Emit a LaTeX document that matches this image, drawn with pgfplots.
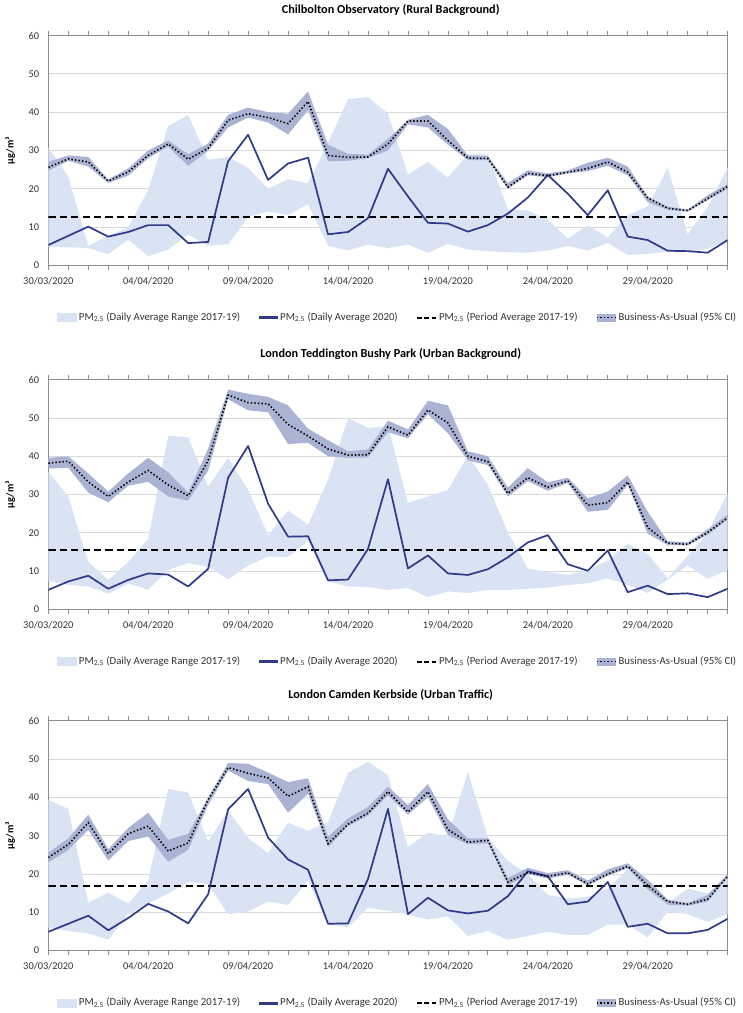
\documentclass[border=0pt]{standalone}
\usepackage{pgfplots}
\pgfplotsset{compat=1.18}
\usepackage{pgfplotstable}
\usepgfplotslibrary{fillbetween}
\usepackage{fontspec}
\setmainfont{Carlito}

\definecolor{rangeblue}{RGB}{218,227,243}
\definecolor{navy}{RGB}{47,58,138}
\definecolor{baublue}{RGB}{170,179,211}

% d = day from 30/03/2020; lo/up = range 2017-19; v = 2020; bau = business-as-usual with CI
\pgfplotstableread{
d lo up v bau blo bup
0 4.9 30.8 5.3 25.6 24.7 27.0
1 4.7 23.1 7.7 27.8 27.3 28.7
2 4.5 5.1 10.1 27.0 25.8 28.3
3 2.9 7.7 7.5 22.0 21.5 22.4
4 6.7 9.9 8.7 24.4 23.4 25.3
5 2.4 19.7 10.5 28.7 28.0 30.0
6 4.1 36.4 10.5 31.7 31.0 32.6
7 8.0 39.2 5.8 27.7 26.0 29.0
8 5.1 27.6 6.1 30.6 29.9 31.8
9 5.5 28.3 27.2 37.9 36.0 39.3
10 12.6 25.4 34.1 39.6 38.6 41.2
11 14.1 20.0 22.3 38.6 37.3 40.0
12 13.1 22.5 26.6 37.0 34.2 39.6
13 16.0 21.4 28.1 42.8 40.5 45.4
14 5.1 32.0 8.1 28.7 27.2 31.5
15 3.9 43.4 8.7 28.2 27.3 29.1
16 5.4 43.9 12.3 28.3 28.0 28.9
17 4.5 39.6 25.2 31.7 30.0 33.0
18 5.4 23.7 18.0 37.7 36.8 38.0
19 3.3 27.0 11.1 37.7 36.0 39.3
20 5.6 22.9 10.9 32.6 31.5 35.6
21 4.1 29.0 8.8 28.0 27.5 28.7
22 3.7 29.0 10.5 27.9 27.5 28.5
23 3.4 14.6 13.5 20.4 20.0 21.5
24 3.3 14.3 17.7 24.0 23.5 24.8
25 3.9 11.9 23.6 23.4 23.0 24.0
26 5.0 7.0 18.7 24.3 24.0 24.8
27 3.9 10.4 13.1 25.3 24.6 26.8
28 5.8 7.3 19.6 27.0 26.0 28.1
29 2.7 13.1 7.5 24.3 23.5 25.8
30 3.0 15.4 6.6 17.6 16.5 18.0
31 3.6 25.5 3.8 14.9 14.5 15.3
32 3.6 8.1 3.7 14.3 14.0 14.6
33 4.3 15.2 3.3 17.4 17.0 18.3
34 6.7 25.5 6.6 20.6 20.0 21.2
}\chilbolton

\pgfplotstableread{
d lo up v bau blo bup
0 7.4 35.9 5.1 38.2 36.8 39.6
1 6.4 29.5 7.3 38.7 37.0 40.0
2 6.0 12.4 8.8 33.3 30.5 35.5
3 4.1 7.7 5.4 29.5 28.0 30.8
4 6.8 12.4 7.7 33.3 32.3 35.5
5 5.1 18.4 9.4 36.3 33.3 39.6
6 10.3 45.3 9.1 32.5 29.5 35.8
7 12.1 45.0 6.0 29.7 28.4 30.5
8 11.1 32.1 10.6 38.9 36.3 42.0
9 7.9 39.6 34.4 56.0 54.9 57.4
10 11.5 31.2 42.7 54.0 52.0 56.3
11 13.8 19.4 27.6 53.7 51.5 55.5
12 13.7 25.8 19.0 48.3 43.2 53.3
13 17.9 22.1 19.1 45.3 43.5 47.2
14 7.3 33.8 7.6 41.9 40.0 44.2
15 6.0 50.0 7.8 40.3 39.6 41.3
16 5.9 47.4 15.8 40.4 39.7 41.8
17 5.1 47.9 34.0 47.7 46.3 49.3
18 5.6 27.8 10.7 45.5 44.7 47.0
19 3.2 29.5 14.1 52.1 51.0 54.5
20 4.7 31.2 9.4 48.7 46.0 53.3
21 4.3 40.2 9.0 40.0 38.9 41.3
22 5.1 32.5 10.5 38.6 37.7 40.0
23 5.1 20.1 13.6 30.3 29.5 31.8
24 5.4 10.7 17.5 34.4 33.5 36.9
25 5.7 9.7 19.4 31.9 31.0 33.2
26 6.4 9.0 11.8 33.6 33.0 34.4
27 6.8 10.3 10.1 27.2 25.5 29.0
28 8.1 12.8 15.4 27.9 26.0 30.8
29 6.4 17.1 4.5 33.3 32.5 35.0
30 4.3 14.5 6.2 21.4 19.8 25.5
31 7.8 8.1 4.0 17.3 16.8 17.8
32 11.5 14.0 4.2 17.0 16.7 17.5
33 8.0 20.0 3.2 20.1 19.5 20.9
34 10.3 30.3 5.4 23.9 23.5 24.8
}\teddington

\pgfplotstableread{
d lo up v bau blo bup
0 6.0 39.3 4.9 24.3 23.0 25.5
1 5.1 37.0 7.0 27.7 26.3 29.3
2 4.5 12.5 9.1 33.4 31.5 35.5
3 2.8 15.1 5.3 25.3 23.5 26.5
4 9.5 12.3 8.5 30.5 28.6 32.0
5 12.3 18.3 12.2 32.5 29.8 36.0
6 14.9 42.2 10.2 26.0 23.2 28.9
7 17.9 41.3 7.1 28.1 26.3 30.5
8 17.4 28.5 14.7 39.4 38.0 40.0
9 9.5 36.6 36.9 47.8 47.0 49.0
10 10.2 29.4 42.2 46.3 44.3 48.8
11 12.8 25.4 29.5 45.1 43.5 46.5
12 11.9 33.4 23.8 40.3 36.0 44.0
13 18.3 31.3 21.1 42.8 41.0 45.0
14 6.8 33.6 7.0 27.9 27.0 29.7
15 6.1 46.4 7.1 33.0 32.5 34.5
16 11.2 49.3 18.7 35.9 35.3 37.5
17 10.4 45.8 37.0 41.5 40.5 42.8
18 9.4 27.0 9.5 36.2 35.5 38.0
19 8.1 30.8 13.8 41.5 40.0 43.5
20 8.9 29.8 10.5 31.6 30.2 34.3
21 3.8 46.7 9.7 28.3 27.8 29.3
22 5.1 29.6 10.4 28.8 28.0 29.3
23 2.8 23.4 14.2 17.9 17.0 19.0
24 3.8 20.0 20.7 20.4 20.0 21.6
25 4.9 14.5 19.4 19.4 18.8 20.2
26 4.1 13.6 12.1 20.3 19.8 21.0
27 4.1 14.0 12.8 17.4 17.0 18.3
28 6.8 16.2 17.9 20.0 19.5 21.2
29 6.8 21.3 6.2 22.0 21.5 22.8
30 3.4 16.2 7.0 17.0 16.0 18.5
31 10.2 12.3 4.5 12.8 12.0 13.3
32 9.5 16.2 4.5 12.1 11.7 12.4
33 7.5 14.9 5.4 13.4 12.8 14.5
34 9.5 19.1 8.3 19.4 19.0 20.0
}\camden

\tikzset{
  rng/.style={draw=none, fill=rangeblue},
  cib/.style={draw=none, fill=baublue},
  yr/.style={navy, line width=1.3pt, line join=round},
  avg/.style={black, line width=1.5pt, dash pattern=on 5.5pt off 3.2pt},
  bauline/.style={black, line width=1.2pt, dash pattern=on 1.1pt off 1.6pt},
}

\pgfplotsset{
  panel/.style={
    scale only axis, width=516.75pt, height=174.75pt,
    anchor=north west,
    xmin=0, xmax=34, ymin=0, ymax=60,
    xtick={0,5,...,30},
    xticklabels={30/03/2020,04/04/2020,09/04/2020,14/04/2020,19/04/2020,24/04/2020,29/04/2020},
    minor xtick={0,...,34},
    ytick={0,10,...,60},
    ymajorgrids, grid style={draw=black!15, line width=0.6pt},
    axis line style={draw=black!45, line width=0.6pt},
    tick align=outside, major tick length=3.5pt, minor tick length=3.5pt,
    xtick style={draw=black!45, line width=0.6pt},
    ytick style={draw=none},
    tick label style={font=\fontsize{7.9}{9}\selectfont, text=black!80},
    /pgf/number format/assume math mode=true,
    xticklabel style={yshift=-2pt},
    ylabel={µg/m³},
    ylabel style={font=\bfseries\fontsize{7.8}{9}\selectfont, at={(axis description cs:-0.056,0.5)}, anchor=center},
    title style={font=\bfseries\fontsize{9.3}{11}\selectfont, at={(axis description cs:0.504,1)}, anchor=center, yshift=13.5pt},
    legend columns=4,
    legend style={at={(0.515,-0.2275)}, anchor=center, draw=none, fill=none,
      font=\fontsize{8.2}{10}\selectfont, text=black!80,
      /tikz/every even column/.append style={column sep=12pt}},
    legend cell align=left,
  },
}

\newcommand{\panelplots}[2]{%
  \addplot[name path=up, draw=none, forget plot] table[x=d, y=up] {#1};
  \addplot[name path=lo, draw=none, forget plot] table[x=d, y=lo] {#1};
  \addplot[rng, forget plot] fill between[of=up and lo];
  \addplot[name path=bup, draw=none, forget plot] table[x=d, y=bup] {#1};
  \addplot[name path=blo, draw=none, forget plot] table[x=d, y=blo] {#1};
  \addplot[cib, forget plot] fill between[of=bup and blo];
  \addplot[avg, forget plot] coordinates {(0,#2) (34,#2)};
  \addplot[yr, forget plot] table[x=d, y=v] {#1};
  \addplot[bauline, forget plot] table[x=d, y=bau] {#1};
  \addlegendimage{legend image code/.code={
      \fill[rangeblue] (0pt,-3pt) rectangle (14pt,3pt);}}
  \addlegendentry{PM\textsubscript{2.5} (Daily Average Range 2017-19)}
  \addlegendimage{legend image code/.code={
      \fill[navy] (0pt,-0.75pt) rectangle (14pt,0.75pt);}}
  \addlegendentry{PM\textsubscript{2.5} (Daily Average 2020)}
  \addlegendimage{legend image code/.code={
      \draw[black, line width=1.5pt, dash pattern=on 3.5pt off 2pt] (0pt,0pt) -- (14pt,0pt);}}
  \addlegendentry{PM\textsubscript{2.5} (Period Average 2017-19)}
  \addlegendimage{legend image code/.code={
      \fill[baublue] (0pt,-2.5pt) rectangle (14pt,2.5pt);
      \draw[bauline] (0pt,0pt) -- (14pt,0pt);}}
  \addlegendentry{Business-As-Usual (95\% CI)}
}

\begin{document}
\begin{tikzpicture}

\begin{axis}[panel, at={(36.75pt,-18.75pt)},
  title={Chilbolton Observatory (Rural Background)}]
\panelplots{\chilbolton}{12.6}
\end{axis}

\begin{axis}[panel, at={(36.75pt,-280.5pt)},
  title={London Teddington Bushy Park (Urban Background)}]
\panelplots{\teddington}{15.6}
\end{axis}

\begin{axis}[panel, at={(36.75pt,-540pt)},
  title={London Camden Kerbside (Urban Traffic)}]
\panelplots{\camden}{16.9}
\end{axis}

\path (0,0) rectangle (555.75pt,-759.75pt);
\end{tikzpicture}
\end{document}
